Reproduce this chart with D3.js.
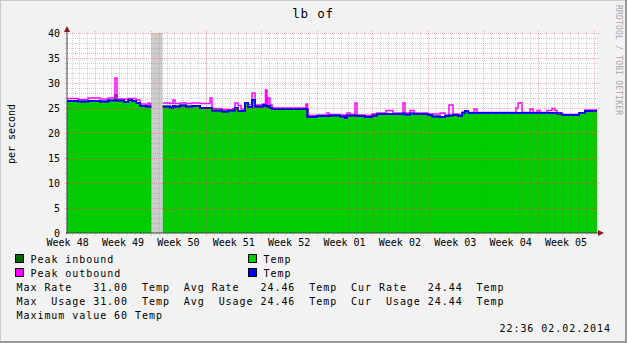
<!DOCTYPE html>
<html>
<head>
<meta charset="utf-8">
<script src="https://cdn.jsdelivr.net/npm/d3@7"></script>
<style>
html, body { margin: 0; padding: 0; background: #F2F2F2; }
svg text { font-family: "DejaVu Sans Mono", monospace; white-space: pre; }
</style>
</head>
<body>
<svg id="chart" width="627" height="343"></svg>
<script>
// step start (days from left edge of graph), values per step
var stepDay = [0, 1.39, 2.65, 4.17, 5.18, 6.07, 6.32, 7.21, 7.71, 8.22, 8.72, 9.23, 9.99, 10.24, 10.49, 10.66,
	12.10, 13.02, 13.40, 13.65, 14.29, 15.04, 15.80, 16.81, 18.08, 18.33, 19.60, 20.35, 20.99, 21.24, 21.62,
	22.00, 22.50, 22.88, 23.39, 23.77, 24.78, 25.09, 25.28, 25.41, 25.66, 25.92, 30.21, 30.40, 31.61, 32.87,
	33.12, 34.51, 35.15, 35.40, 35.78, 36.41, 36.66, 37.67, 38.56, 39.19, 40.33, 41.21, 42.48, 42.73, 43.36,
	43.87, 45.64, 46.14, 47.16, 47.79, 48.29, 48.80, 49.43, 49.94, 50.32, 50.70, 51.45, 51.83, 56.76, 57.02,
	57.52, 58.53, 58.91, 59.42, 59.80, 60.68, 61.31, 61.69, 61.95, 62.58, 64.73, 65.49];
var endDay = 67;

var tempAvg = [26.4, 26.3, 26.4, 26.3, 26.5, 26.5, 26.5, 26.2, 26.6, 26.4, 26.0, 25.4, 25.3, 25.3, 25.3, null,
	25.3, 25.1, 25.4, 25.3, 25.5, 25.3, 25.4, 25.0, 25.0, 24.5, 24.3, 24.5, 24.5, 25.0, 24.4,
	24.4, 26.0, 25.2, 26.6, 25.3, 25.6, 25.4, 25.3, 25.4, 25.0, 24.8, 24.8, 23.2, 23.4, 23.4,
	23.5, 23.3, 23.0, 23.5, 23.5, 23.5, 23.4, 23.2, 23.5, 23.8, 23.8, 23.8, 23.9, 23.7, 23.9,
	23.8, 23.6, 23.3, 23.2, 23.4, 23.5, 23.6, 23.4, 24.0, 24.4, 24.0, 24.0, 24.0, 24.0, 24.0,
	24.0, 24.0, 24.0, 24.0, 24.0, 24.0, 24.0, 24.0, 23.9, 23.6, 24.0, 24.4];

var peakIn = [26.4, 26.3, 26.4, 26.3, 26.5, 27.6, 26.5, 26.2, 26.6, 26.4, 26.0, 25.4, 25.3, 25.3, 25.3, null,
	25.3, 25.1, 25.4, 25.3, 25.5, 25.3, 25.4, 25.0, 25.0, 24.5, 24.3, 24.5, 24.5, 25.0, 24.4,
	24.4, 26.0, 25.2, 26.6, 25.3, 25.6, 25.4, 25.3, 25.4, 25.0, 24.8, 24.8, 23.2, 23.4, 23.4,
	23.5, 23.3, 23.0, 23.5, 23.5, 23.5, 23.4, 23.2, 23.5, 23.8, 23.8, 23.8, 23.9, 23.7, 23.9,
	23.8, 23.6, 23.3, 23.2, 23.4, 23.5, 23.6, 23.4, 24.0, 24.4, 24.0, 24.0, 24.0, 24.0, 24.0,
	24.0, 24.0, 24.0, 24.0, 24.0, 24.0, 24.0, 24.0, 23.9, 23.6, 24.0, 24.4];

var peakOut = [26.9, 26.7, 27.0, 26.8, 27.0, 31.0, 26.8, 26.8, 26.9, 26.9, 26.6, 25.8, 25.6, 26.0, 25.7, null,
	26.0, 25.9, 26.6, 25.9, 26.0, 25.9, 26.0, 25.9, 27.0, 24.9, 24.7, 24.7, 24.9, 26.0, 25.5,
	24.8, 26.0, 25.7, 28.0, 25.6, 25.8, 28.6, 25.6, 27.0, 25.6, 25.0, 25.8, 23.5, 23.6, 24.0,
	23.7, 23.6, 23.5, 24.0, 23.7, 26.0, 23.6, 23.5, 23.8, 24.0, 24.5, 24.0, 26.0, 24.0, 24.5,
	24.0, 23.8, 23.8, 24.0, 23.6, 25.6, 23.8, 23.7, 24.2, 24.4, 24.1, 24.8, 24.1, 25.0, 26.0,
	24.1, 24.8, 24.1, 24.5, 24.1, 24.5, 24.9, 24.5, 24.0, 23.7, 24.0, 24.6];

var unknownSpan = [10.66, 12.10];
var yTicks = [0, 5, 10, 15, 20, 25, 30, 35, 40];
var weekLabels = ["Week 48", "Week 49", "Week 50", "Week 51", "Week 52", "Week 01", "Week 02", "Week 03", "Week 04", "Week 05"];
var firstWeekLine = 3.58;   // day of first week boundary
var firstLabelDay = 0.08;

var legendRows = [
	"Max Rate   31.00  Temp  Avg Rate   24.46  Temp  Cur Rate   24.44  Temp",
	"Max  Usage 31.00  Temp  Avg  Usage 24.46  Temp  Cur  Usage 24.44  Temp",
	"Maximum value 60 Temp"
];

var svg = d3.select("#chart");
var W = 627, H = 343;

var x = d3.scaleLinear().domain([0, endDay]).range([67, 597]);
var y = d3.scaleLinear().domain([0, 40]).range([233, 33]);

// background and shading border
svg.append("rect").attr("width", W).attr("height", H).attr("fill", "#F2F2F2");
svg.append("path").attr("d", "M0,343V0H627").attr("fill", "none").attr("stroke", "#CBCBCB").attr("stroke-width", 2);
svg.append("path").attr("d", "M0,342H626V0").attr("fill", "none").attr("stroke", "#999999").attr("stroke-width", 2);

// canvas
svg.append("rect").attr("x", x(0)).attr("y", y(40)).attr("width", x(endDay) - x(0)).attr("height", y(0) - y(40)).attr("fill", "#FFFFFF");

// step points
function steps(vals) {
	var pts = [];
	for (var i = 0; i < stepDay.length; i++) {
		var t1 = i + 1 < stepDay.length ? stepDay[i + 1] : endDay;
		pts.push({t: stepDay[i], v: vals[i]});
		pts.push({t: t1, v: vals[i]});
	}
	return pts;
}

var g = svg.append("g");

// unknown region
g.append("rect")
	.attr("x", x(unknownSpan[0])).attr("width", x(unknownSpan[1]) - x(unknownSpan[0]))
	.attr("y", y(40)).attr("height", y(0) - y(40))
	.attr("fill", "#CCCCCC");

var area = d3.area()
	.defined(d => d.v != null)
	.x(d => x(d.t)).y0(y(0)).y1(d => y(d.v));
var line = d3.line()
	.defined(d => d.v != null)
	.x(d => x(d.t)).y(d => y(d.v));

g.append("path").datum(steps(tempAvg)).attr("d", area).attr("fill", "#00CC00");
g.append("path").datum(steps(peakIn)).attr("d", line).attr("fill", "none").attr("stroke", "#006600").attr("stroke-width", 2);
g.append("path").datum(steps(peakOut)).attr("d", line).attr("fill", "none").attr("stroke", "#FF00FF").attr("stroke-width", 1.5);
g.append("path").datum(steps(tempAvg)).attr("d", line).attr("fill", "none").attr("stroke", "#0000FF").attr("stroke-width", 2);

// grid (drawn over the graph like rrdtool)
var grid = svg.append("g");
var minorDays = d3.range(firstWeekLine - 3, endDay, 1).filter(d => Math.abs(((d - firstWeekLine) % 7 + 7) % 7) > 0.01);
var majorDays = d3.range(firstWeekLine, endDay, 7);
var minorVals = d3.range(1, 40, 1).filter(v => v % 5 != 0);

grid.selectAll(".vmin").data(minorDays).enter().append("line")
	.attr("x1", d => Math.round(x(d)) + 0.5).attr("x2", d => Math.round(x(d)) + 0.5)
	.attr("y1", y(0) + 2).attr("y2", y(40) - 2)
	.attr("stroke", "rgba(128,128,128,0.35)").attr("stroke-dasharray", "1,1");
grid.selectAll(".hmin").data(minorVals).enter().append("line")
	.attr("x1", x(0) - 2).attr("x2", x(endDay) + 2)
	.attr("y1", d => Math.round(y(d)) + 0.5).attr("y2", d => Math.round(y(d)) + 0.5)
	.attr("stroke", "rgba(128,128,128,0.35)").attr("stroke-dasharray", "1,1");
grid.selectAll(".vmaj").data(majorDays).enter().append("line")
	.attr("x1", d => Math.round(x(d)) + 0.5).attr("x2", d => Math.round(x(d)) + 0.5)
	.attr("y1", y(0) + 3).attr("y2", y(40) - 2)
	.attr("stroke", "rgba(220,60,60,0.35)").attr("stroke-dasharray", "1,1");
grid.selectAll(".hmaj").data(yTicks.slice(1)).enter().append("line")
	.attr("x1", x(0) - 3).attr("x2", x(endDay) + 2)
	.attr("y1", d => Math.round(y(d)) + 0.5).attr("y2", d => Math.round(y(d)) + 0.5)
	.attr("stroke", "rgba(220,60,60,0.35)").attr("stroke-dasharray", "1,1");

// axes
svg.append("line").attr("x1", x(0)).attr("x2", x(0)).attr("y1", y(0) + 1).attr("y2", y(40) - 3)
	.attr("stroke", "#404040").attr("stroke-width", 1);
svg.append("line").attr("x1", x(0) - 1).attr("x2", x(endDay) + 2).attr("y1", y(0)).attr("y2", y(0))
	.attr("stroke", "#404040").attr("stroke-width", 1);
svg.append("path").attr("d", "M64,32L67,26L70,32Z").attr("fill", "#8B1A1A");
svg.append("path").attr("d", "M598,230L604,233L598,236Z").attr("fill", "#8B1A1A");

// tick labels
svg.selectAll(".ylab").data(yTicks).enter().append("text")
	.attr("x", 60).attr("y", d => y(d) + 3.5)
	.attr("text-anchor", "end").attr("font-size", 10).attr("fill", "#000")
	.text(d => d);

svg.selectAll(".xlab").data(weekLabels).enter().append("text")
	.attr("x", (d, i) => x(firstLabelDay + 7 * i)).attr("y", 245.5)
	.attr("text-anchor", "middle").attr("font-size", 10).attr("fill", "#000")
	.text(d => d);

// titles
svg.append("text").attr("x", 313).attr("y", 18).attr("text-anchor", "middle")
	.attr("font-size", 12.5).attr("letter-spacing", 0.8).text("lb of");
svg.append("text").attr("transform", "translate(15,134) rotate(-90)").attr("text-anchor", "middle")
	.attr("font-size", 10).text("per second");
svg.append("text").attr("transform", "translate(616,5) rotate(90)")
	.attr("font-size", 8).attr("letter-spacing", 0.2).attr("fill", "#A8A8A8").text("RRDTOOL / TOBI OETIKER");

// legend
var legendItems = [
	{label: "Peak inbound", color: "#006600", lx: 15.5, ly: 254.5},
	{label: "Temp", color: "#00CC00", lx: 248.5, ly: 254.5},
	{label: "Peak outbound", color: "#FF00FF", lx: 15.5, ly: 268.5},
	{label: "Temp", color: "#0000FF", lx: 248.5, ly: 268.5}
];
var leg = svg.append("g");
leg.selectAll("rect").data(legendItems).enter().append("rect")
	.attr("x", d => d.lx).attr("y", d => d.ly).attr("width", 8).attr("height", 8)
	.attr("fill", d => d.color).attr("stroke", "#000").attr("stroke-width", 1);
leg.selectAll(".lt").data(legendItems).enter().append("text")
	.attr("x", d => d.lx + 15).attr("y", d => d.ly + 8)
	.attr("font-size", 10).attr("letter-spacing", 0.95).text(d => d.label);

leg.selectAll(".row").data(legendRows).enter().append("text")
	.attr("x", 16.5).attr("y", (d, i) => 290.5 + i * 14.2)
	.attr("font-size", 10).attr("letter-spacing", 0.95).text(d => d);

svg.append("text").attr("x", 611).attr("y", 332).attr("text-anchor", "end")
	.attr("font-size", 10).attr("letter-spacing", 0.95).text("22:36 02.02.2014");
</script>
</body>
</html>
